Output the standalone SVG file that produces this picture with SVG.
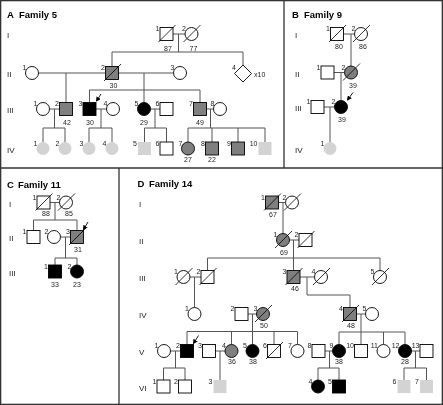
<svg xmlns="http://www.w3.org/2000/svg" width="443" height="405" viewBox="0 0 443 405">
<defs>
<style>
.ln{stroke:#555;stroke-width:1;fill:none}
.s{stroke:#000;stroke-width:0.9}
.w{fill:#fff}.g{fill:#7f7f7f}.k{fill:#000}.lg{fill:#d3d3d3;stroke:none}
.dc{stroke:#000;stroke-width:0.8}
.arr{stroke:#000;stroke-width:0.9;marker-end:url(#ah)}
text{font-family:"Liberation Sans",Arial,sans-serif;fill:#222;filter:url(#ga)}
.n{font-size:7px;text-anchor:end}
.a{font-size:7px;text-anchor:middle}
.gen{font-size:8px}
.t{font-size:9.5px;font-weight:bold;fill:#000}
.fr{stroke:#333;stroke-width:1.3;fill:none}
</style>
<filter id="ga"><feOffset dx="0" dy="0"/></filter>
<marker id="ah" markerWidth="5" markerHeight="5" refX="4" refY="2.5" orient="auto" markerUnits="userSpaceOnUse"><path d="M0,0 L5,2.5 L0,5 z" fill="#000"/></marker>
</defs>
<rect width="443" height="405" fill="#fff"/>
<g id="frame">
<rect class="fr" x="0.65" y="0.65" width="441.7" height="403.7"/>
<path class="fr" d="M284,0 V168 M0,168 H443 M119,168 V405"/>
</g>
<g id="titles">
<text class="t" x="7" y="18">A<tspan x="19">Family 5</tspan></text>
<text class="t" x="292" y="18">B<tspan x="304">Family 9</tspan></text>
<text class="t" x="7" y="188">C<tspan x="18">Family 11</tspan></text>
<text class="t" x="137.5" y="187">D<tspan x="149">Family 14</tspan></text>
</g>
<g id="generations">
<text class="gen" x="7" y="38">I</text><text class="gen" x="7" y="77">II</text><text class="gen" x="7" y="113">III</text><text class="gen" x="7" y="152.5">IV</text>
<text class="gen" x="295" y="38">I</text><text class="gen" x="295" y="76.5">II</text><text class="gen" x="295" y="111">III</text><text class="gen" x="295" y="152.5">IV</text>
<text class="gen" x="9" y="206.5">I</text><text class="gen" x="9" y="241">II</text><text class="gen" x="9" y="275.5">III</text>
<text class="gen" x="139" y="206.5">I</text><text class="gen" x="139" y="244">II</text><text class="gen" x="139" y="281">III</text><text class="gen" x="139" y="318">IV</text><text class="gen" x="139" y="355">V</text><text class="gen" x="139" y="390.5">VI</text>
</g>
<g id="connectors">
<path class="ln" d="M173,34 H185 M178.5,34 V52 M112,52 H243 M112,52 V66.5 M243,52 V65 M38.5,73 H105.5 M66,73 V102.5 M118.5,73 H173.5 M144,73 V102.5 M89.5,90 H200 M89.5,90 V102.5 M200,90 V102.5"/>
<path class="ln" d="M49.5,109 H59.5 M54.5,109 V128 M43,128 H65 M43,128 V142 M65,128 V142 M96,109 H106.5 M101,109 V128 M89,128 H112 M89,128 V142 M112,128 V142 M150.5,109 H160 M155,109 V128 M144.5,128 H166.5 M144.5,128 V142 M166.5,128 V142 M206.5,109 H213.5 M210.5,109 V128 M188,128 H265 M188,128 V142 M212,128 V142 M238,128 V142 M265,128 V142"/>
<path class="ln" d="M343.5,34 H354.5 M351,34 V66 M334,72.5 H344.5 M341,72.5 V100.5 M324,107 H334.5 M330,107 V142"/>
<path class="ln" d="M50,202.5 H59.5 M55,202.5 V220 M33.5,220 H77 M33.5,220 V230.5 M77,220 V230.5 M60.5,237 H70.5 M65.5,237 V258 M55,258 H77 M55,258 V265 M77,258 V265"/>
<path class="ln" d="M278.5,202.5 H285.5 M283,202.5 V233.5 M289.5,240 H299 M293.5,240 V270.5 M207.5,258 H380 M207.5,258 V270.5 M380,258 V270.5 M190,277 H201 M194.5,277 V307.5 M300,277 H314.5 M307,277 V295 H350 V307.5"/>
<path class="ln" d="M248,314 H256.5 M252.5,314 V344.5 M187,331.5 H297.5 M187,331.5 V344.5 M231.5,331.5 V344.5 M274,331.5 V344.5 M297.5,331.5 V344.5 M356.5,314 H365.5 M361,314 V332 M339,332 H405 M339,332 V344.5 M361,332 V344.5 M383.5,332 V344.5 M405,332 V344.5"/>
<path class="ln" d="M170.5,351 H180.5 M175.5,351 V368 M163.5,368 H185 M163.5,368 V380 M185,368 V380 M215.5,351 H225 M220,351 V380 M325,351 H332.5 M329.5,351 V368 M318,368 H339 M318,368 V380 M339,368 V380 M411.5,351 H420 M415.5,351 V368 M404,368 H426.5 M404,368 V380 M426.5,368 V380"/>
</g>
<g id="arrows">
<line class="arr" x1="101" y1="94" x2="96.5" y2="101"/>
<line class="arr" x1="353" y1="92.5" x2="347.5" y2="100"/>
<line class="arr" x1="88" y1="222" x2="83.5" y2="229.5"/>
<line class="arr" x1="198.5" y1="335.5" x2="193.5" y2="343.5"/>
</g>
<!-- Family 5 -->
<g id="f5-I-1"><rect class="s w" x="160" y="27.5" width="13" height="13"/><line class="dc" x1="158.5" y1="42" x2="175.5" y2="25"/><text class="n" x="159.5" y="31">1</text><text class="a" x="168" y="50.5">87</text></g>
<g id="f5-I-2"><circle class="s w" cx="191.5" cy="34" r="6.5"/><line class="dc" x1="183.5" y1="42" x2="200.5" y2="25"/><text class="n" x="186" y="31">2</text><text class="a" x="193.5" y="50.5">77</text></g>
<g id="f5-II-1"><circle class="s w" cx="32" cy="73" r="6.5"/><text class="n" x="26.5" y="70">1</text></g>
<g id="f5-II-2"><rect class="s g" x="105.5" y="66.5" width="13" height="13"/><line class="dc" x1="104" y1="81" x2="121" y2="64"/><text class="n" x="105" y="69.5">2</text><text class="a" x="113.5" y="88">30</text></g>
<g id="f5-II-3"><circle class="s w" cx="180" cy="73" r="6.5"/><text class="n" x="174.5" y="70">3</text></g>
<g id="f5-II-4"><polygon class="s w" points="243,65 251.5,73.5 243,82 234.5,73.5"/><text class="n" x="236" y="70">4</text><text font-size="7" x="254" y="76.5">x10</text></g>
<g id="f5-III-1"><circle class="s w" cx="43" cy="109" r="6.5"/><text class="n" x="37.5" y="106">1</text></g>
<g id="f5-III-2"><rect class="s g" x="59.5" y="102.5" width="13" height="13"/><text class="n" x="59" y="106">2</text><text class="a" x="67" y="125">42</text></g>
<g id="f5-III-3"><rect class="s k" x="83" y="102.5" width="13" height="13"/><text class="n" x="82.5" y="106">3</text><text class="a" x="90" y="125">30</text></g>
<g id="f5-III-4"><circle class="s w" cx="113" cy="109" r="6.5"/><text class="n" x="107.5" y="106">4</text></g>
<g id="f5-III-5"><circle class="s k" cx="144" cy="109" r="6.5"/><text class="n" x="138.5" y="106">5</text><text class="a" x="144" y="125">29</text></g>
<g id="f5-III-6"><rect class="s w" x="160" y="102.5" width="13" height="13"/><text class="n" x="159.5" y="106">6</text></g>
<g id="f5-III-7"><rect class="s g" x="193.5" y="102.5" width="13" height="13"/><text class="n" x="193" y="106">7</text><text class="a" x="200" y="125">49</text></g>
<g id="f5-III-8"><circle class="s w" cx="220" cy="109" r="6.5"/><text class="n" x="214.5" y="106">8</text></g>
<g id="f5-IV-1"><circle class="lg" cx="43" cy="148.5" r="6.5"/><text class="n" x="37.5" y="145.5">1</text></g>
<g id="f5-IV-2"><circle class="lg" cx="65" cy="148.5" r="6.5"/><text class="n" x="59.5" y="145.5">2</text></g>
<g id="f5-IV-3"><circle class="lg" cx="89" cy="148.5" r="6.5"/><text class="n" x="83.5" y="145.5">3</text></g>
<g id="f5-IV-4"><circle class="lg" cx="112" cy="148.5" r="6.5"/><text class="n" x="106.5" y="145.5">4</text></g>
<g id="f5-IV-5"><rect class="lg" x="138" y="142" width="13" height="13"/><text class="n" x="137" y="145.5">5</text></g>
<g id="f5-IV-6"><rect class="s w" x="160" y="142" width="13" height="13"/><text class="n" x="159.5" y="145.5">6</text></g>
<g id="f5-IV-7"><circle class="s g" cx="188" cy="148.5" r="6.5"/><text class="n" x="182.5" y="145.5">7</text><text class="a" x="188" y="161.5">27</text></g>
<g id="f5-IV-8"><rect class="s g" x="205.5" y="142" width="13" height="13"/><text class="n" x="205" y="145.5">8</text><text class="a" x="212" y="161.5">22</text></g>
<g id="f5-IV-9"><rect class="s g" x="231.5" y="142" width="13" height="13"/><text class="n" x="231" y="145.5">9</text></g>
<g id="f5-IV-10"><rect class="lg" x="258.5" y="142" width="13" height="13"/><text class="n" x="257.5" y="145.5">10</text></g>
<!-- Family 9 -->
<g id="f9-I-1"><rect class="s w" x="330.5" y="27.5" width="13" height="13"/><line class="dc" x1="329" y1="42" x2="346" y2="25"/><text class="n" x="330" y="31">1</text><text class="a" x="339" y="48.5">80</text></g>
<g id="f9-I-2"><circle class="s w" cx="361" cy="34" r="6.5"/><line class="dc" x1="353" y1="42" x2="370" y2="25"/><text class="n" x="355.5" y="31">2</text><text class="a" x="363" y="48.5">86</text></g>
<g id="f9-II-1"><rect class="s w" x="321" y="66" width="13" height="13"/><text class="n" x="320.5" y="69.5">1</text></g>
<g id="f9-II-2"><circle class="s g" cx="351" cy="72.5" r="6.5"/><line class="dc" x1="343" y1="80.5" x2="360" y2="63.5"/><text class="n" x="345.5" y="69.5">2</text><text class="a" x="353" y="87.5">39</text></g>
<g id="f9-III-1"><rect class="s w" x="311" y="100.5" width="13" height="13"/><text class="n" x="310.5" y="104">1</text></g>
<g id="f9-III-2"><circle class="s k" cx="341" cy="107" r="6.5"/><text class="n" x="335.5" y="104">2</text><text class="a" x="342" y="122">39</text></g>
<g id="f9-IV-1"><circle class="lg" cx="330" cy="148.5" r="6.5"/><text class="n" x="324.5" y="145.5">1</text></g>
<!-- Family 11 -->
<g id="f11-I-1"><rect class="s w" x="37" y="196" width="13" height="13"/><line class="dc" x1="35.5" y1="210.5" x2="52.5" y2="193.5"/><text class="n" x="36.5" y="199.5">1</text><text class="a" x="46" y="216">88</text></g>
<g id="f11-I-2"><circle class="s w" cx="66" cy="202.5" r="6.5"/><line class="dc" x1="58" y1="210.5" x2="75" y2="193.5"/><text class="n" x="60.5" y="199.5">2</text><text class="a" x="69" y="216">85</text></g>
<g id="f11-II-1"><rect class="s w" x="27" y="230.5" width="13" height="13"/><text class="n" x="26.5" y="234">1</text></g>
<g id="f11-II-2"><circle class="s w" cx="54" cy="237" r="6.5"/><text class="n" x="48.5" y="234">2</text></g>
<g id="f11-II-3"><rect class="s g" x="70.5" y="230.5" width="13" height="13"/><line class="dc" x1="69" y1="245" x2="86" y2="228"/><text class="n" x="70" y="234">3</text><text class="a" x="78" y="252">31</text></g>
<g id="f11-III-1"><rect class="s k" x="48.5" y="265" width="13" height="13"/><text class="n" x="48" y="268.5">1</text><text class="a" x="55" y="287">33</text></g>
<g id="f11-III-2"><circle class="s k" cx="77" cy="271.5" r="6.5"/><text class="n" x="71.5" y="268.5">2</text><text class="a" x="77" y="287">23</text></g>
<!-- Family 14 -->
<g id="f14-I-1"><rect class="s g" x="265.5" y="196" width="13" height="13"/><line class="dc" x1="264" y1="210.5" x2="281" y2="193.5"/><text class="n" x="265" y="199.5">1</text><text class="a" x="273" y="217">67</text></g>
<g id="f14-I-2"><circle class="s w" cx="292" cy="202.5" r="6.5"/><line class="dc" x1="284" y1="210.5" x2="301" y2="193.5"/><text class="n" x="286.5" y="199.5">2</text></g>
<g id="f14-II-1"><circle class="s g" cx="283" cy="240" r="6.5"/><line class="dc" x1="275" y1="248" x2="292" y2="231"/><text class="n" x="277.5" y="237">1</text><text class="a" x="284" y="254.5">69</text></g>
<g id="f14-II-2"><rect class="s w" x="299" y="233.5" width="13" height="13"/><line class="dc" x1="297.5" y1="248" x2="314.5" y2="231"/><text class="n" x="298.5" y="237">2</text></g>
<g id="f14-III-1"><circle class="s w" cx="183.5" cy="277" r="6.5"/><line class="dc" x1="175.5" y1="285" x2="192.5" y2="268"/><text class="n" x="178" y="274">1</text></g>
<g id="f14-III-2"><rect class="s w" x="201" y="270.5" width="13" height="13"/><line class="dc" x1="199.5" y1="285" x2="216.5" y2="268"/><text class="n" x="200.5" y="274">2</text></g>
<g id="f14-III-3"><rect class="s g" x="287" y="270.5" width="13" height="13"/><line class="dc" x1="285.5" y1="285" x2="302.5" y2="268"/><text class="n" x="286.5" y="274">3</text><text class="a" x="295" y="290.5">46</text></g>
<g id="f14-III-4"><circle class="s w" cx="321" cy="277" r="6.5"/><line class="dc" x1="313" y1="285" x2="330" y2="268"/><text class="n" x="315.5" y="274">4</text></g>
<g id="f14-III-5"><circle class="s w" cx="380" cy="277" r="6.5"/><line class="dc" x1="372" y1="285" x2="389" y2="268"/><text class="n" x="374.5" y="274">5</text></g>
<g id="f14-IV-1"><circle class="s w" cx="194.5" cy="314" r="6.5"/><text class="n" x="189" y="311">1</text></g>
<g id="f14-IV-2"><rect class="s w" x="235" y="307.5" width="13" height="13"/><text class="n" x="234.5" y="311">2</text></g>
<g id="f14-IV-3"><circle class="s g" cx="263" cy="314" r="6.5"/><line class="dc" x1="255" y1="322" x2="272" y2="305"/><text class="n" x="257.5" y="311">3</text><text class="a" x="264" y="327.5">50</text></g>
<g id="f14-IV-4"><rect class="s g" x="343.5" y="307.5" width="13" height="13"/><line class="dc" x1="342" y1="322" x2="359" y2="305"/><text class="n" x="343" y="311">4</text><text class="a" x="351" y="327.5">48</text></g>
<g id="f14-IV-5"><circle class="s w" cx="372" cy="314" r="6.5"/><text class="n" x="366.5" y="311">5</text></g>
<g id="f14-V-1"><circle class="s w" cx="164" cy="351" r="6.5"/><text class="n" x="158.5" y="348">1</text></g>
<g id="f14-V-2"><rect class="s k" x="180.5" y="344.5" width="13" height="13"/><text class="n" x="180" y="348">2</text></g>
<g id="f14-V-3"><rect class="s w" x="202.5" y="344.5" width="13" height="13"/><text class="n" x="202" y="348">3</text></g>
<g id="f14-V-4"><circle class="s g" cx="231.5" cy="351" r="6.5"/><text class="n" x="226" y="348">4</text><text class="a" x="232" y="364">36</text></g>
<g id="f14-V-5"><circle class="s k" cx="252.5" cy="351" r="6.5"/><text class="n" x="247" y="348">5</text><text class="a" x="253" y="364">38</text></g>
<g id="f14-V-6"><rect class="s w" x="267.5" y="344.5" width="13" height="13"/><line class="dc" x1="266" y1="359" x2="283" y2="342"/><text class="n" x="267" y="348">6</text></g>
<g id="f14-V-7"><circle class="s w" cx="297.5" cy="351" r="6.5"/><text class="n" x="292" y="348">7</text></g>
<g id="f14-V-8"><rect class="s w" x="312" y="344.5" width="13" height="13"/><text class="n" x="311.5" y="348">8</text></g>
<g id="f14-V-9"><circle class="s k" cx="339" cy="351" r="6.5"/><text class="n" x="333.5" y="348">9</text><text class="a" x="339" y="364">38</text></g>
<g id="f14-V-10"><rect class="s w" x="354.5" y="344.5" width="13" height="13"/><text class="n" x="354" y="348">10</text></g>
<g id="f14-V-11"><circle class="s w" cx="383.5" cy="351" r="6.5"/><text class="n" x="378" y="348">11</text></g>
<g id="f14-V-12"><circle class="s k" cx="405" cy="351" r="6.5"/><text class="n" x="399.5" y="348">12</text><text class="a" x="405" y="364">28</text></g>
<g id="f14-V-13"><rect class="s w" x="420" y="344.5" width="13" height="13"/><text class="n" x="419.5" y="348">13</text></g>
<g id="f14-VI-1"><rect class="s w" x="157" y="380" width="13" height="13"/><text class="n" x="156.5" y="383.5">1</text></g>
<g id="f14-VI-2"><rect class="s w" x="178.5" y="380" width="13" height="13"/><text class="n" x="178" y="383.5">2</text></g>
<g id="f14-VI-3"><rect class="lg" x="213.5" y="380" width="13" height="13"/><text class="n" x="212.5" y="383.5">3</text></g>
<g id="f14-VI-4"><circle class="s k" cx="318" cy="386.5" r="6.5"/><text class="n" x="312.5" y="383.5">4</text></g>
<g id="f14-VI-5"><rect class="s k" x="332.5" y="380" width="13" height="13"/><text class="n" x="332" y="383.5">5</text></g>
<g id="f14-VI-6"><rect class="lg" x="397.5" y="380" width="13" height="13"/><text class="n" x="396.5" y="383.5">6</text></g>
<g id="f14-VI-7"><rect class="lg" x="420" y="380" width="13" height="13"/><text class="n" x="419" y="383.5">7</text></g>
</svg>
